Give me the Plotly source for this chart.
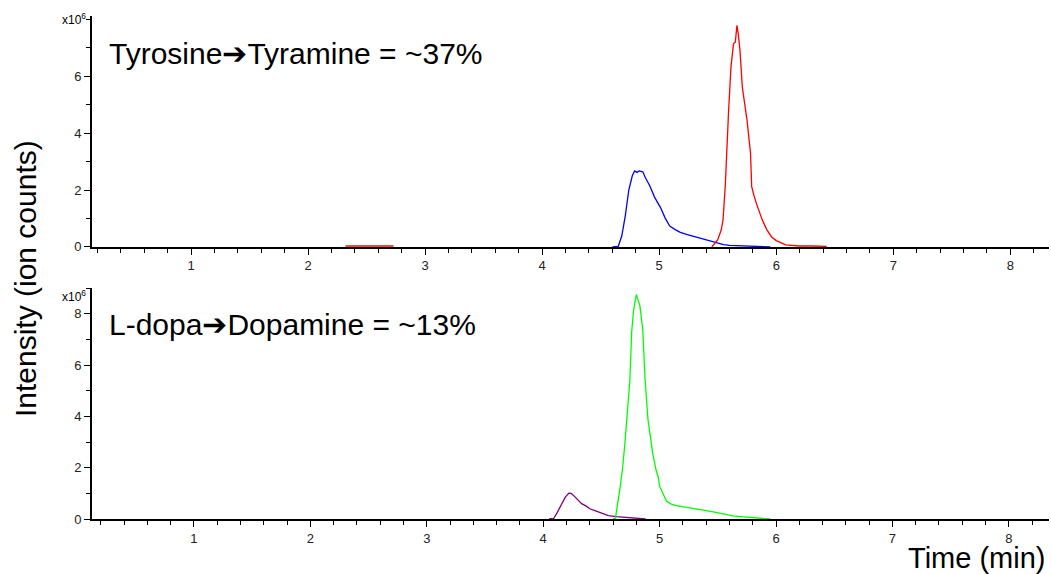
import plotly.graph_objects as go

# ---- data (intensities in units of 1e6 ion counts, time in min) ----
blue_t = [4.60, 4.65, 4.68, 4.71, 4.74, 4.77, 4.79, 4.81, 4.83, 4.86, 4.88, 4.92, 4.96, 5.01, 5.05,
          5.09, 5.14, 5.18, 5.24, 5.29, 5.35, 5.41, 5.46, 5.50, 5.55, 5.60, 5.70, 5.80, 5.95]
blue_y = [0, 0.02, 0.38, 1.09, 2.0, 2.5, 2.67, 2.62, 2.67, 2.64, 2.45, 2.14, 1.75, 1.39, 1.02,
          0.73, 0.6, 0.51, 0.43, 0.37, 0.30, 0.24, 0.18, 0.13, 0.08, 0.05, 0.03, 0.02, 0.0]

red_t = [5.45, 5.50, 5.53, 5.545, 5.564, 5.578, 5.593, 5.613, 5.625, 5.635, 5.65, 5.664, 5.675,
         5.69, 5.71, 5.73, 5.75, 5.78, 5.79, 5.81, 5.83, 5.88, 5.92, 5.96, 6.0, 6.08, 6.2, 6.3, 6.43]
red_y = [0, 0.25, 0.6, 0.95, 2.12, 3.75, 4.81, 6.33, 6.9, 7.15, 7.2, 7.79, 7.5,
         6.91, 5.62, 5.0, 4.46, 3.3, 2.12, 1.8, 1.53, 0.95, 0.6, 0.35, 0.22, 0.07, 0.03, 0.03, 0.02]

red_minor_t = [2.32, 2.45, 2.60, 2.73]
red_minor_y = [0.03, 0.03, 0.03, 0.03]

green_t = [4.60, 4.62, 4.66, 4.68, 4.70, 4.72, 4.745, 4.76, 4.775, 4.79, 4.80, 4.81, 4.83, 4.855,
           4.875, 4.90, 4.94, 4.97, 4.99, 5.00, 5.03, 5.06, 5.10, 5.15, 5.22, 5.29, 5.35, 5.40,
           5.46, 5.52, 5.58, 5.63, 5.72, 5.80, 5.90, 5.95]
green_y = [0, 0.02, 1.2, 1.9, 2.84, 4.14, 5.45, 7.28, 8.07, 8.5, 8.75, 8.6, 8.33, 7.41,
           5.45, 3.88, 2.58, 1.9, 1.6, 1.27, 0.95, 0.69, 0.58, 0.51, 0.46, 0.42, 0.37, 0.33,
           0.28, 0.22, 0.16, 0.12, 0.08, 0.06, 0.03, 0.0]

purple_t = [4.05, 4.09, 4.12, 4.16, 4.19, 4.22, 4.24, 4.26, 4.30, 4.33, 4.37, 4.40, 4.45, 4.49,
            4.53, 4.56, 4.63, 4.72, 4.82, 4.88]
purple_y = [0, 0.02, 0.25, 0.6, 0.85, 1.01, 1.0, 0.92, 0.75, 0.6, 0.5, 0.4, 0.32, 0.26,
            0.18, 0.13, 0.09, 0.05, 0.03, 0]

x_ticks = [1, 2, 3, 4, 5, 6, 7, 8]
top_y_ticks = [0, 2, 4, 6]
bot_y_ticks = [0, 2, 4, 6, 8]

top_label = "Tyrosine➔Tyramine = ~37%"
bot_label = "L-dopa➔Dopamine = ~13%"

FONT = "Liberation Sans, Arial, sans-serif"
LW = 1.3

fig = go.Figure()
fig.add_trace(go.Scatter(x=red_minor_t, y=red_minor_y, mode="lines",
                         line=dict(color="#ff0000", width=LW), xaxis="x", yaxis="y"))
fig.add_trace(go.Scatter(x=blue_t, y=blue_y, mode="lines",
                         line=dict(color="#0000ff", width=LW), xaxis="x", yaxis="y"))
fig.add_trace(go.Scatter(x=red_t, y=red_y, mode="lines",
                         line=dict(color="#ff0000", width=LW), xaxis="x", yaxis="y"))
fig.add_trace(go.Scatter(x=purple_t, y=purple_y, mode="lines",
                         line=dict(color="#800080", width=LW), xaxis="x2", yaxis="y2"))
fig.add_trace(go.Scatter(x=green_t, y=green_y, mode="lines",
                         line=dict(color="#00ff00", width=LW), xaxis="x2", yaxis="y2"))

def xax(rng, anchor):
    return dict(range=rng, anchor=anchor, domain=[0, 1], tickvals=x_ticks,
                showgrid=False, zeroline=False, showline=True, linecolor="black", linewidth=2,
                ticks="outside", ticklen=6, tickwidth=1, tickcolor="black",
                minor=dict(dtick=0.2, tick0=0, ticks="outside", ticklen=4, tickwidth=1, tickcolor="black"),
                tickfont=dict(family=FONT, size=13, color="#222"))

def yax(rng, dom, ticks, anchor):
    return dict(range=rng, domain=dom, anchor=anchor, tickvals=ticks,
                showgrid=False, zeroline=False, showline=True, linecolor="black", linewidth=2,
                ticks="outside", ticklen=6, tickwidth=1, tickcolor="black",
                minor=dict(dtick=1, tick0=0, ticks="outside", ticklen=4, tickwidth=1, tickcolor="black"),
                tickfont=dict(family=FONT, size=13, color="#222"))

fig.update_layout(
    width=1051, height=574,
    margin=dict(l=92, r=2, t=16, b=55),
    paper_bgcolor="white", plot_bgcolor="white",
    showlegend=False,
    xaxis=xax([0.154, 8.33], "y"),
    yaxis=yax([0, 8.12], [0.541, 1.0], top_y_ticks, "x"),
    xaxis2=xax([0.124, 8.345], "y2"),
    yaxis2=yax([0, 9.0], [0.0, 0.459], bot_y_ticks, "x2"),
    font=dict(family=FONT, color="black"),
)

ann = [
    dict(text=top_label, x=0.0157, y=0.926, xanchor="left", yanchor="middle", font=dict(size=30)),
    dict(text=bot_label, x=0.0157, y=0.386, xanchor="left", yanchor="middle", font=dict(size=30)),
    dict(text="x10<sup>6</sup>", x=-0.004, y=0.994, xanchor="right", yanchor="middle", font=dict(size=12)),
    dict(text="x10<sup>6</sup>", x=-0.004, y=0.443, xanchor="right", yanchor="middle", font=dict(size=12)),
    dict(text="Intensity (ion counts)", x=-0.070, y=0.477, xanchor="center", yanchor="middle",
         textangle=-90, font=dict(size=30)),
    dict(text="Time (min)", x=0.998, y=-0.078, xanchor="right", yanchor="middle", font=dict(size=29)),
]
for a in ann:
    a.update(xref="paper", yref="paper", showarrow=False)
    a["font"].update(family=FONT, color="black")
fig.update_layout(annotations=ann)

fig.write_html("out.html", config={"displayModeBar": False},
               post_script="document.body.style.margin='0';document.body.style.overflow='hidden';")
